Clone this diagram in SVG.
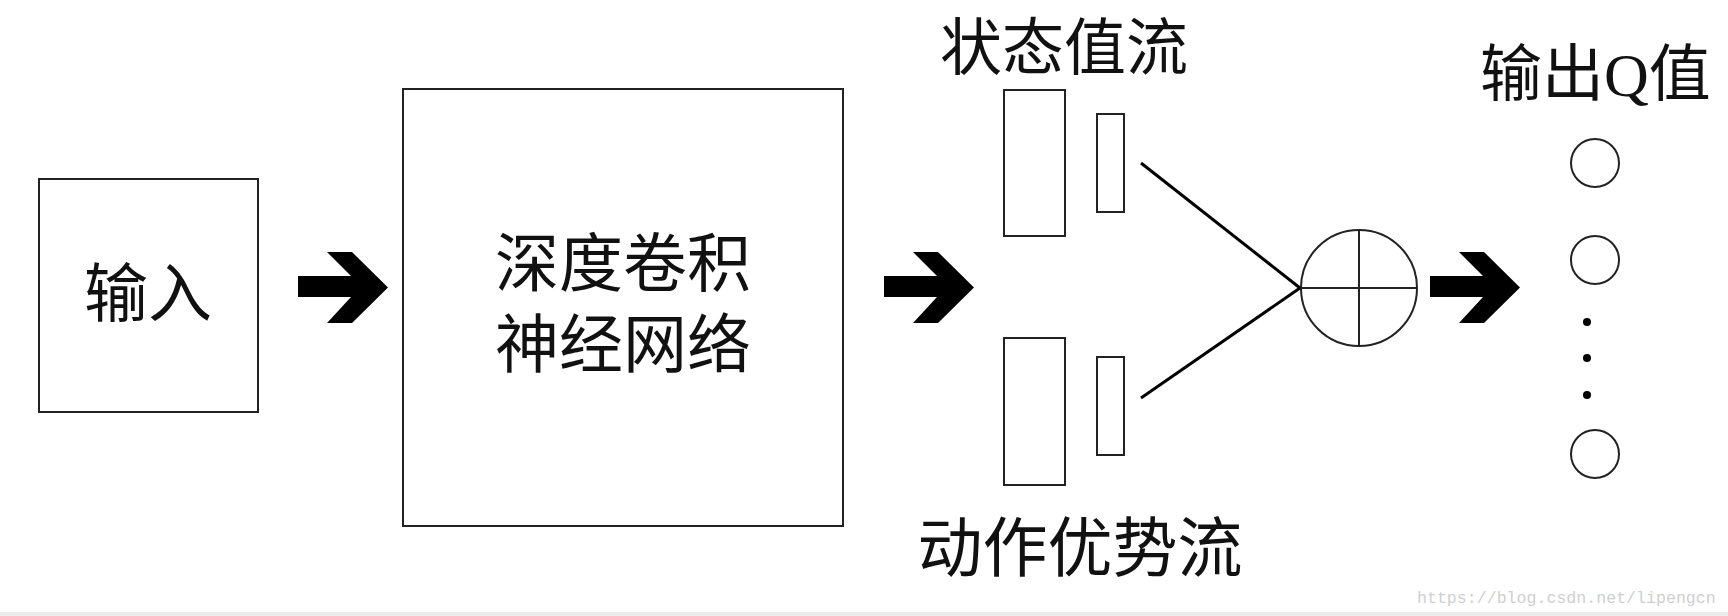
<svg xmlns="http://www.w3.org/2000/svg" width="1728" height="616" viewBox="0 0 1728 616">
<defs>
<style>
.box{fill:#fff;stroke:#222;stroke-width:2}
.lbl{font-family:"Noto Sans CJK SC","Liberation Sans",sans-serif;fill:#111;text-anchor:middle}
.big{font-size:64px}
.arrow{fill:#000}
.line{stroke:#000;stroke-width:3;fill:none}
.thin{stroke:#222;stroke-width:2;fill:none}
</style>
<path id="chev" d="M298,276 L351,276 L327,252 L352,252 L388,287.5 L352,323 L327,323 L351,297 L298,297 Z"/>
</defs>
<rect x="0" y="0" width="1728" height="616" fill="#fff"/>
<rect x="0" y="612" width="1728" height="4" fill="#ececec"/>

<g id="input">
<rect class="box" x="39" y="179" width="219" height="233"/>
<text class="lbl big" x="148" y="316">输入</text>
</g>

<g id="cnn">
<rect class="box" x="403" y="89" width="440" height="437"/>
<text class="lbl big" x="623" y="286">深度卷积</text>
<text class="lbl big" x="623" y="367">神经网络</text>
</g>

<g id="value-stream">
<text class="lbl" font-size="62" x="1064" y="70">状态值流</text>
<rect class="box" x="1004" y="90" width="61" height="146"/>
<rect class="box" x="1097" y="114" width="27" height="98"/>
</g>

<g id="advantage-stream">
<rect class="box" x="1004" y="338" width="61" height="147"/>
<rect class="box" x="1097" y="357" width="27" height="98"/>
<text class="lbl" font-size="65" x="1080" y="571">动作优势流</text>
</g>

<g id="sum">
<circle class="thin" cx="1359" cy="288" r="58"/>
<line class="thin" x1="1301" y1="288" x2="1417" y2="288"/>
<line class="thin" x1="1359" y1="230" x2="1359" y2="346"/>
</g>

<g id="output">
<text font-family="'Liberation Serif','Noto Sans CJK SC',serif" font-size="62" fill="#111" x="1480" y="96">输出Q值</text>
<circle class="thin" cx="1595" cy="163" r="24"/>
<circle class="thin" cx="1595" cy="260" r="24"/>
<circle cx="1587" cy="322" r="4" fill="#000"/>
<circle cx="1587" cy="358" r="4" fill="#000"/>
<circle cx="1587" cy="395" r="4" fill="#000"/>
<circle class="thin" cx="1595" cy="454" r="24"/>
</g>

<g id="connectors">
<use href="#chev" class="arrow"/>
<use href="#chev" class="arrow" transform="translate(586,0)"/>
<use href="#chev" class="arrow" transform="translate(1132,0)"/>
<line class="line" x1="1141" y1="163" x2="1300" y2="288"/>
<line class="line" x1="1141" y1="398" x2="1300" y2="288"/>
</g>

<text font-family="'Liberation Mono',monospace" font-size="16.6" fill="#cfcfcf" x="1417" y="603">https://blog.csdn.net/lipengcn</text>
</svg>
